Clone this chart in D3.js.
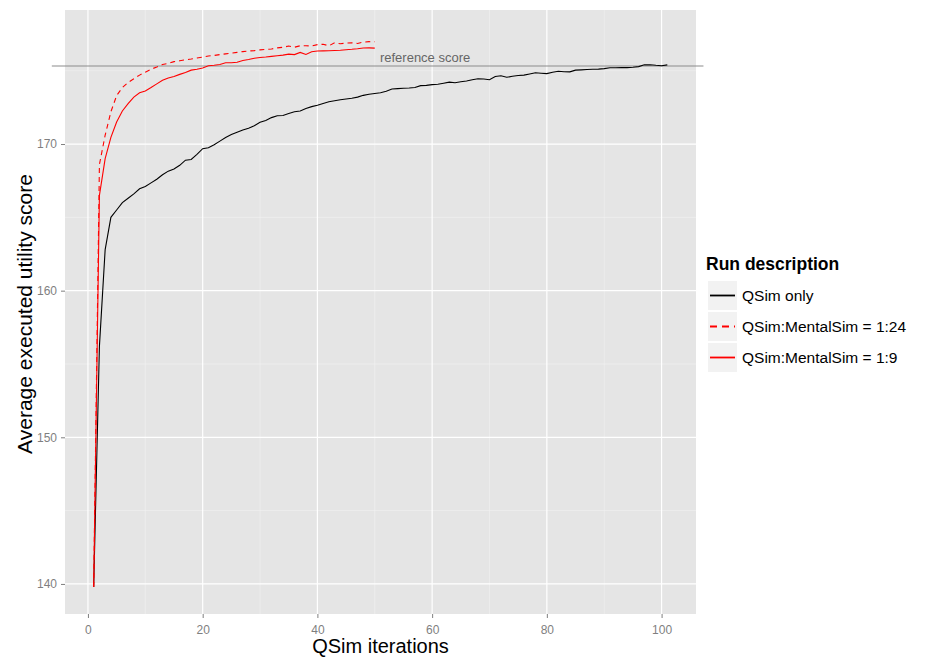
<!DOCTYPE html>
<html>
<head>
<meta charset="utf-8">
<script src="https://cdn.jsdelivr.net/npm/d3@7"></script>
<style>
  body { margin: 0; background: #fff; }
  svg text { font-family: "Liberation Sans", Arial, Helvetica, sans-serif; }
</style>
</head>
<body>
<script>
// average score per QSim iteration
var qsimOnly = [
  139.8, 156.2, 162.8, 165.0, 165.5, 166.0, 166.3, 166.6, 166.95, 167.1,
  167.35, 167.6, 167.9, 168.15, 168.3, 168.55, 168.9, 168.95, 169.3, 169.68,
  169.75, 169.95, 170.2, 170.45, 170.65, 170.8, 170.95, 171.08, 171.25, 171.48,
  171.6, 171.8, 171.93, 171.95, 172.08, 172.2, 172.25, 172.42, 172.55, 172.65,
  172.77, 172.88, 172.95, 173.02, 173.07, 173.12, 173.2, 173.32, 173.4, 173.45,
  173.5, 173.6, 173.75, 173.78, 173.8, 173.82, 173.85, 173.98, 174.0, 174.05,
  174.08, 174.15, 174.22, 174.18, 174.25, 174.3, 174.38, 174.45, 174.43, 174.38,
  174.6, 174.66, 174.55, 174.62, 174.67, 174.7, 174.78, 174.86, 174.83, 174.8,
  174.9, 174.96, 174.93, 174.92, 175.04, 175.06, 175.08, 175.1, 175.11, 175.14,
  175.2, 175.2, 175.21, 175.21, 175.24, 175.28, 175.4, 175.41, 175.37, 175.34,
  175.4
];
var mental24 = [
  139.8, 168.6, 170.6, 172.2, 173.3, 173.85, 174.2, 174.45, 174.7, 174.9,
  175.1, 175.25, 175.42, 175.5, 175.62, 175.68, 175.74, 175.8, 175.87, 175.93,
  176.0, 176.04, 176.1, 176.15, 176.2, 176.25, 176.3, 176.34, 176.37, 176.42,
  176.45, 176.48, 176.56, 176.6, 176.68, 176.6, 176.7, 176.7, 176.68, 176.78,
  176.8, 176.7, 176.9, 176.84, 176.88, 176.9, 176.86, 176.95, 176.98, 176.97
];
var mental9 = [
  139.8, 166.5, 169.0, 170.45, 171.5, 172.25, 172.75, 173.2, 173.5, 173.62,
  173.85, 174.1, 174.35, 174.5, 174.6, 174.75, 174.88, 175.04, 175.1, 175.18,
  175.34, 175.37, 175.42, 175.54, 175.54, 175.58, 175.7, 175.77, 175.85, 175.9,
  175.93, 175.98, 176.02, 176.06, 176.13, 176.1, 176.25, 176.11, 176.29, 176.34,
  176.35, 176.36, 176.38, 176.4, 176.43, 176.46, 176.5, 176.55, 176.56, 176.54
];

var xTicks = [0, 20, 40, 60, 80, 100];
var xMinor = [10, 30, 50, 70, 90];
var yTicks = [140, 150, 160, 170];
var yMinor = [145, 155, 165, 175];

var refScore = 175.32;
var refSpan = [-6.3, 107.3];
var refLabelAt = 50.9;

var seriesNames = ["QSim only", "QSim:MentalSim = 1:24", "QSim:MentalSim = 1:9"];
var seriesColors = ["#000000", "#ff0000", "#ff0000"];
var seriesDash = [null, "5,4", null];
var seriesData = [qsimOnly, mental24, mental9];

var width = 933, height = 657;
var svg = d3.select("body").append("svg").attr("width", width).attr("height", height);

// panel is 65..696 x 10..614
var x = d3.scaleLinear().domain([-4, 106]).range([65, 696]);
var y = d3.scaleLinear().domain([137.95, 179.14]).range([614, 10]);

svg.append("rect")
  .attr("x", x.range()[0]).attr("y", y.range()[1])
  .attr("width", x.range()[1] - x.range()[0])
  .attr("height", y.range()[0] - y.range()[1])
  .attr("fill", "#e5e5e5");

// grid
var grid = svg.append("g");
grid.selectAll(".xminor").data(xMinor).enter().append("line")
  .attr("x1", d => x(d)).attr("x2", d => x(d))
  .attr("y1", y.range()[0]).attr("y2", y.range()[1])
  .attr("stroke", "#f2f2f2").attr("stroke-width", 0.6);
grid.selectAll(".yminor").data(yMinor).enter().append("line")
  .attr("y1", d => y(d)).attr("y2", d => y(d))
  .attr("x1", x.range()[0]).attr("x2", x.range()[1])
  .attr("stroke", "#f2f2f2").attr("stroke-width", 0.6);
grid.selectAll(".xmajor").data(xTicks).enter().append("line")
  .attr("x1", d => x(d)).attr("x2", d => x(d))
  .attr("y1", y.range()[0]).attr("y2", y.range()[1])
  .attr("stroke", "#ffffff").attr("stroke-width", 1.2);
grid.selectAll(".ymajor").data(yTicks).enter().append("line")
  .attr("y1", d => y(d)).attr("y2", d => y(d))
  .attr("x1", x.range()[0]).attr("x2", x.range()[1])
  .attr("stroke", "#ffffff").attr("stroke-width", 1.2);

// axes
var xAxis = svg.append("g").attr("transform", "translate(0," + y.range()[0] + ")")
  .call(d3.axisBottom(x).tickValues(xTicks).tickSize(4).tickPadding(7));
var yAxis = svg.append("g").attr("transform", "translate(" + x.range()[0] + ",0)")
  .call(d3.axisLeft(y).tickValues(yTicks).tickSize(4).tickPadding(4));
[xAxis, yAxis].forEach(function(a) {
  a.select(".domain").remove();
  a.selectAll(".tick line").attr("stroke", "#7f7f7f").attr("stroke-width", 1);
  a.selectAll(".tick text").attr("fill", "#7f7f7f").style("font-size", "12px")
    .style("font-family", '"Liberation Sans", Arial, sans-serif');
});

// reference line
svg.append("line")
  .attr("x1", x(refSpan[0])).attr("x2", x(refSpan[1]))
  .attr("y1", y(refScore)).attr("y2", y(refScore))
  .attr("stroke", "#8c8c8c").attr("stroke-width", 1.2);
svg.append("text")
  .attr("x", x(refLabelAt)).attr("y", y(refScore) - 4)
  .attr("fill", "#666").style("font-size", "13px")
  .text("reference score");

// series lines
var line = d3.line()
  .x(function(d, i) { return x(i + 1); })
  .y(function(d) { return y(d); });

seriesData.forEach(function(s, k) {
  svg.append("path")
    .attr("d", line(s))
    .attr("fill", "none")
    .attr("stroke", seriesColors[k])
    .attr("stroke-width", 1.1)
    .attr("stroke-dasharray", seriesDash[k]);
});

// axis titles
svg.append("text")
  .attr("x", (x.range()[0] + x.range()[1]) / 2).attr("y", 653)
  .attr("text-anchor", "middle").style("font-size", "20px")
  .text("QSim iterations");
svg.append("text")
  .attr("transform", "translate(32," + (y.range()[0] + y.range()[1] + 4) / 2 + ") rotate(-90)")
  .attr("text-anchor", "middle").style("font-size", "21px")
  .text("Average executed utility score");

// legend
var legend = svg.append("g").attr("transform", "translate(708,281)");
legend.append("text")
  .attr("x", -2).attr("y", -11)
  .style("font-size", "17.5px").style("font-weight", "bold")
  .text("Run description");
seriesNames.forEach(function(name, k) {
  var g = legend.append("g").attr("transform", "translate(0," + k * 31 + ")");
  g.append("rect").attr("width", 29).attr("height", 29).attr("fill", "#f2f2f2");
  g.append("line")
    .attr("x1", 2).attr("x2", 27).attr("y1", 14.5).attr("y2", 14.5)
    .attr("stroke", seriesColors[k]).attr("stroke-width", 1.8)
    .attr("stroke-dasharray", seriesDash[k] ? "7,5" : null);
  g.append("text")
    .attr("x", 34).attr("y", 20)
    .style("font-size", "15.5px")
    .text(name);
});
</script>
</body>
</html>
